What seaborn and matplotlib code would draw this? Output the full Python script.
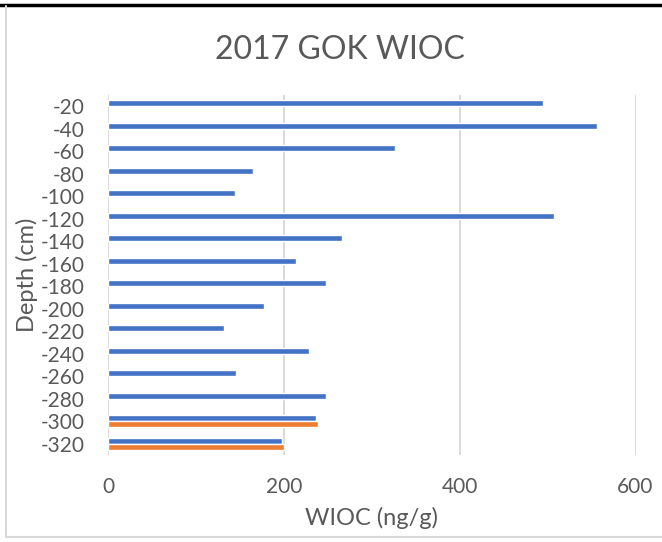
import matplotlib
matplotlib.use("Agg")
import matplotlib.pyplot as plt
from matplotlib.lines import Line2D
import pandas as pd
import seaborn as sns

# Depth categories (cm) and WIOC concentrations (ng/g)
depths = ["-20", "-40", "-60", "-80", "-100", "-120", "-140", "-160",
          "-180", "-200", "-220", "-240", "-260", "-280", "-300", "-320"]
wioc_run1 = [495, 556, 327, 165, 144, 507, 266, 214,
             248, 177, 132, 229, 146, 248, 237, 198]
run2_depths = ["-300", "-320"]
wioc_run2 = [239, 200]

runs = ["Run 1", "Run 2"]
colors = ["#4472C4", "#ED7D31"]
x_ticks = [0, 200, 400, 600]

df = pd.DataFrame({
    "Depth": depths + run2_depths,
    "WIOC": wioc_run1 + wioc_run2,
    "Run": [runs[0]] * len(depths) + [runs[1]] * len(run2_depths),
})

sns.set_theme(style="white")
plt.rcParams["font.family"] = ["Lato", "DejaVu Sans"]
text_color = "#595959"

W, H = 662, 542
fig = plt.figure(figsize=(W / 100, H / 100), dpi=100)
fig.patch.set_facecolor("white")

left, right, top, bottom = 108, 635.5, 95, 455
ax = fig.add_axes([left / W, 1 - bottom / H, (right - left) / W, (bottom - top) / H])

sns.barplot(data=df, x="WIOC", y="Depth", hue="Run", order=depths,
            hue_order=runs, palette=colors, orient="h", width=0.533,
            dodge=True, saturation=1, legend=False, errorbar=None, ax=ax)

ax.set_xlim(0, 600)
ax.set_xticks(x_ticks)
ax.set_xticklabels([str(t) for t in x_ticks])
ax.grid(axis="x", color="#D9D9D9", linewidth=1.4)
ax.grid(axis="y", visible=False)
ax.set_axisbelow(True)
for s in ax.spines.values():
    s.set_visible(False)

ax.tick_params(axis="x", length=0, pad=16, labelsize=15, labelcolor=text_color)
ax.tick_params(axis="y", length=0, pad=17, labelsize=15, labelcolor=text_color)

ax.set_xlabel("WIOC (ng/g)", fontsize=17, color=text_color, va="center")
ax.set_ylabel("Depth (cm)", fontsize=17, color=text_color, va="center")
ax.xaxis.set_label_coords(0.5, (bottom - 518) / (bottom - top))
ax.yaxis.set_label_coords((27 - left) / (right - left), 0.5)

fig.text(340 / W, 1 - 50 / H, "2017 GOK WIOC", ha="center", va="center",
         fontsize=23, color=text_color)

# Chart frame
fig.add_artist(Line2D([0, 1], [1 - 4.5 / H] * 2, color="black", lw=2.5,
                      transform=fig.transFigure))
fig.add_artist(Line2D([5.5 / W] * 2, [1 - 6 / H, 1 - 537 / H], color="#D9D9D9",
                      lw=1.5, transform=fig.transFigure))
fig.add_artist(Line2D([5.5 / W, 1], [1 - 537 / H] * 2, color="#D9D9D9",
                      lw=1.5, transform=fig.transFigure))

fig.savefig("out.png", dpi=100, facecolor="white")
